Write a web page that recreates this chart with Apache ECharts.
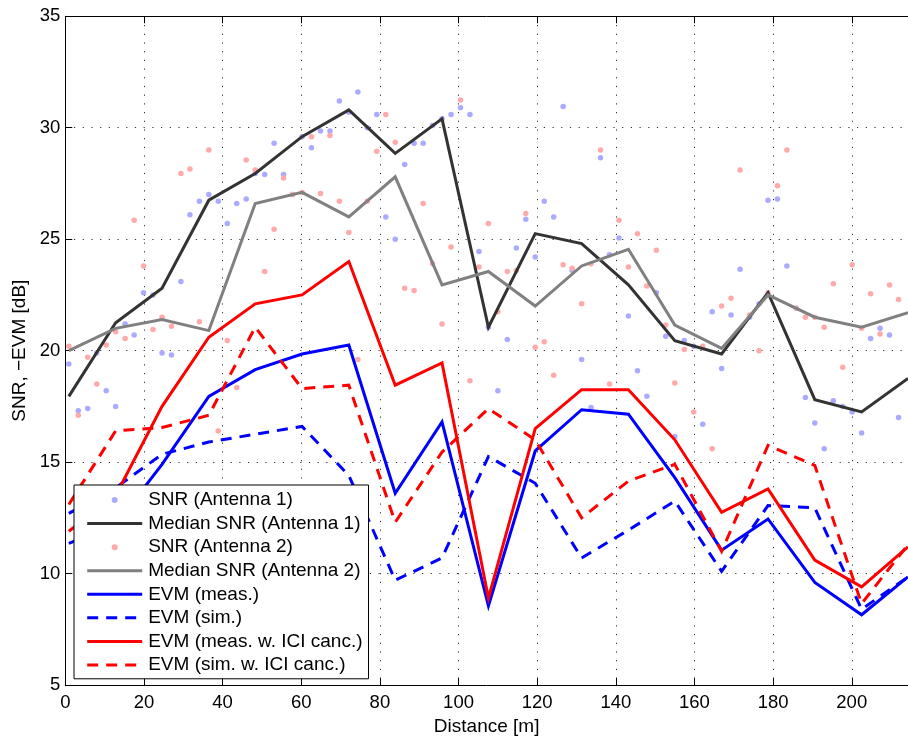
<!DOCTYPE html>
<html>
<head>
<meta charset="utf-8">
<script src="https://cdn.jsdelivr.net/npm/echarts@6/dist/echarts.min.js"></script>
<style>
html,body{margin:0;padding:0;background:#fff;}
#chart{width:908px;height:741px;}
</style>
</head>
<body>
<div id="chart"></div>
<script>
// Distances of the SNR measurements [m]
var snrDistances = [0.9, 3.3, 5.7, 8.0, 10.4, 12.8, 15.2, 17.5, 19.9, 22.3,
  24.6, 27.0, 29.4, 31.7, 34.1, 36.5, 38.9, 41.2, 43.6, 46.0,
  48.3, 50.7, 53.1, 55.5, 57.8, 60.2, 62.6, 64.9, 67.3, 69.7,
  72.1, 74.4, 76.8, 79.2, 81.5, 83.9, 86.3, 88.7, 91.0, 93.4,
  95.8, 98.1, 100.5, 102.9, 105.2, 107.6, 110.0, 112.4, 114.7, 117.1,
  119.5, 121.8, 124.2, 126.6, 128.9, 131.3, 133.7, 136.1, 138.4, 140.8,
  143.2, 145.5, 147.9, 150.3, 152.7, 155.0, 157.4, 159.8, 162.1, 164.5,
  166.9, 169.3, 171.6, 174.0, 176.4, 178.7, 181.1, 183.5, 185.9, 188.2,
  190.6, 193.0, 195.3, 197.7, 200.1, 202.5, 204.8, 207.2, 209.6, 211.9];

var snrAntenna1 = [19.4, 17.3, 17.4, 19.9, 18.2, 17.5, 21.2, 20.7, 22.6, 22.5,
  19.9, 19.8, 23.1, 26.1, 26.7, 27.0, 26.7, 25.7, 26.6, 26.8,
  27.95, 27.9, 29.3, 27.9, 27.0, 29.6, 29.1, 29.85, 29.85, 31.2,
  30.7, 31.6, 30.0, 30.6, 26.0, 25.0, 28.35, 29.3, 29.3, 30.1,
  30.4, 30.6, 30.9, 30.6, 24.45, 21.05, 18.2, 20.5, 24.6, 25.9,
  24.2, 26.7, 26.0, 30.95, 23.6, 19.6, 17.45, 28.65, 24.3, 25.05,
  21.55, 19.1, 17.95, 22.6, 20.65, 16.15, 20.45, 20.2, 16.7, 21.75,
  19.2, 21.6, 23.65, 21.5, 22.1, 26.75, 26.8, 23.8, 21.9, 17.9,
  16.75, 15.6, 17.75, 17.5, 17.25, 16.3, 20.55, 21.0, 20.7, 17.0];

var snrAntenna2 = [20.2, 17.1, 19.7, 18.5, 20.25, 20.85, 20.55, 25.85, 23.8, 20.95,
  21.5, 21.1, 27.95, 28.15, 21.3, 29.0, 16.4, 20.45, 18.35, 28.55,
  28.1, 23.55, 25.45, 27.75, 27.0, 27.1, 29.6, 27.05, 29.65, 26.7,
  25.3, 19.6, 26.7, 28.95, 30.6, 29.35, 22.8, 22.7, 26.6, 23.9,
  21.2, 24.65, 31.25, 18.65, 23.75, 25.7, 21.75, 23.55, 23.6, 26.15,
  20.15, 20.4, 18.9, 23.85, 23.7, 22.1, 23.9, 29.0, 18.5, 25.85,
  23.75, 25.25, 22.9, 24.5, 21.15, 18.55, 20.05, 17.25, 20.2, 15.6,
  22.0, 22.35, 28.1, 21.6, 20.0, 22.6, 27.4, 29.0, 21.9, 21.5,
  21.5, 21.05, 23.0, 19.25, 23.85, 21.0, 22.55, 20.75, 22.95, 22.3];

// Distances of the median / EVM evaluation points [m]
var distances = [0.9, 12.8, 24.6, 36.5, 48.3, 60.2, 72.1, 83.9, 95.8, 107.6,
  119.5, 131.3, 143.2, 155.0, 166.9, 178.7, 190.6, 202.5, 214.3];

var medianSnrAntenna1 = [17.95, 21.25, 22.8, 26.75, 27.95, 29.6, 30.8, 28.85, 30.4, 21.05,
  25.25, 24.8, 22.95, 20.45, 19.85, 22.6, 17.8, 17.25, 18.75];
var medianSnrAntenna2 = [20.0, 21.0, 21.4, 20.9, 26.6, 27.1, 26.0, 27.8, 22.95, 23.55,
  22.0, 23.8, 24.55, 21.15, 20.1, 22.5, 21.5, 21.05, 21.7];
var evmMeas = [11.35, 12.2, 14.9, 17.95, 19.15, 19.85, 20.25, 13.6, 16.8, 8.55,
  15.5, 17.35, 17.15, 14.3, 11.05, 12.45, 9.6, 8.15, 9.85];
var evmSim = [12.7, 13.85, 15.35, 15.9, 16.25, 16.6, 14.4, 9.7, 10.7, 15.25,
  14.05, 10.7, 11.95, 13.25, 10.1, 13.05, 12.95, 8.4, 9.85];
var evmMeasIci = [11.9, 13.5, 17.5, 20.6, 22.1, 22.5, 24.0, 18.45, 19.45, 8.9,
  16.5, 18.25, 18.25, 16.0, 12.75, 13.8, 10.6, 9.4, 11.2];
var evmSimIci = [13.1, 16.4, 16.55, 17.1, 21.05, 18.3, 18.45, 12.3, 15.45, 17.4,
  16.0, 12.5, 14.15, 14.9, 11.0, 15.75, 14.85, 8.65, 11.3];

var xTicksMax = 214.3;
var yTicks = [5, 10, 15, 20, 25, 30, 35];

var legendNames = ['SNR (Antenna 1)', 'Median SNR (Antenna 1)', 'SNR (Antenna 2)', 'Median SNR (Antenna 2)',
  'EVM (meas.)', 'EVM (sim.)', 'EVM (meas. w. ICI canc.)', 'EVM (sim. w. ICI canc.)'];
var legendIsLine = [false, true, false, true, true, true, true, true];

function pairs(xs, ys) {
  var out = [];
  for (var i = 0; i < xs.length; i++) out.push([xs[i], ys[i]]);
  return out;
}

var FONT = '"Liberation Sans", Arial, Helvetica, sans-serif';
var chart = echarts.init(document.getElementById('chart'), null, {renderer: 'canvas'});

function lineSeries(name, data, color, dashed) {
  return {
    name: name, type: 'line', data: pairs(distances, data),
    symbol: 'none', showSymbol: false, clip: true,
    lineStyle: {color: color, width: 3, type: dashed ? [11, 8] : 'solid', cap: 'butt', join: 'miter'},
    itemStyle: {color: color},
    emphasis: {disabled: true}, silent: true
  };
}
function scatterSeries(name, data, color) {
  return {
    name: name, type: 'scatter', data: pairs(snrDistances, data),
    symbol: 'circle', symbolSize: 5.5,
    itemStyle: {color: color, opacity: 1},
    emphasis: {disabled: true}, silent: true
  };
}

var legendData = legendNames.map(function (n, i) {
  return legendIsLine[i] ? {name: n, itemStyle: {opacity: 0}} : {name: n};
});

var option = {
  animation: false,
  backgroundColor: '#ffffff',
  grid: {left: 65.3, top: 16.3, right: -6.7, bottom: 53.5, containLabel: false},
  legend: {
    orient: 'vertical', left: 74, top: 485,
    padding: [5.5, 6, 4.3, 11.7],
    itemWidth: 55, itemHeight: 6, itemGap: 4.57,
    backgroundColor: '#ffffff', borderColor: '#000000', borderWidth: 1,
    selectedMode: false,
    lineStyle: {width: 3},
    textStyle: {fontFamily: FONT, fontSize: 19, color: '#000', lineHeight: 19, padding: [0, 0, 0, 1]},
    data: legendData
  },
  xAxis: [{
    type: 'value', min: 0, max: xTicksMax, interval: 20, position: 'bottom',
    name: 'Distance [m]', nameLocation: 'middle', nameGap: 32,
    nameTextStyle: {fontFamily: FONT, fontSize: 19, color: '#000'},
    axisLine: {show: true, onZero: false, lineStyle: {color: '#000', width: 1}},
    axisTick: {show: true, inside: true, length: 7, lineStyle: {color: '#000', width: 1}},
    axisLabel: {show: true, margin: 8, fontFamily: FONT, fontSize: 18.5, color: '#000', showMaxLabel: false},
    splitLine: {show: true, lineStyle: {color: '#333', width: 1, type: [1.2, 7.5]}}
  }, {
    type: 'value', min: 0, max: xTicksMax, interval: 20, position: 'top',
    axisLine: {show: true, onZero: false, lineStyle: {color: '#000', width: 1}},
    axisTick: {show: true, inside: true, length: 7, lineStyle: {color: '#000', width: 1}},
    axisLabel: {show: false},
    splitLine: {show: false}
  }],
  yAxis: [{
    type: 'value', min: yTicks[0], max: yTicks[yTicks.length - 1], interval: 5,
    name: 'SNR, \u2212EVM [dB]', nameLocation: 'middle', nameGap: 31, nameRotate: 90,
    nameTextStyle: {fontFamily: FONT, fontSize: 19, color: '#000'},
    axisLine: {show: true, onZero: false, lineStyle: {color: '#000', width: 1}},
    axisTick: {show: true, inside: true, length: 7, lineStyle: {color: '#000', width: 1}},
    axisLabel: {show: true, margin: 5, fontFamily: FONT, fontSize: 18.5, color: '#000'},
    splitLine: {show: true, lineStyle: {color: '#333', width: 1, type: [1.2, 7.5]}}
  }],
  series: [
    scatterSeries(legendNames[0], snrAntenna1, '#aaaaff'),
    lineSeries(legendNames[1], medianSnrAntenna1, '#333333', false),
    scatterSeries(legendNames[2], snrAntenna2, '#ffaaaa'),
    lineSeries(legendNames[3], medianSnrAntenna2, '#808080', false),
    lineSeries(legendNames[4], evmMeas, '#0000ff', false),
    lineSeries(legendNames[5], evmSim, '#0000ff', true),
    lineSeries(legendNames[6], evmMeasIci, '#ff0000', false),
    lineSeries(legendNames[7], evmSimIci, '#ff0000', true)
  ]
};
chart.setOption(option);
</script>
</body>
</html>
